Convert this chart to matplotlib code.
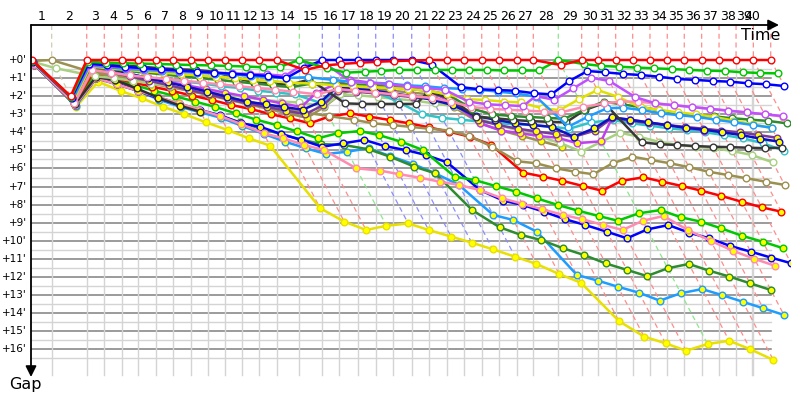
import numpy as np
import matplotlib.pyplot as plt
from matplotlib.colors import to_rgb

# leader crossing times, minutes from start (crossing 0 = start)
lap_t = [0.0, 2.07, 5.76, 7.61, 9.44, 11.19, 13.05, 14.87, 16.71, 18.49, 20.32,
         22.14, 23.93, 25.76, 28.14, 30.56, 32.35, 34.35, 36.18, 38.03, 39.97,
         41.82, 43.65, 45.47, 47.34, 49.13, 51.02, 52.77, 55.40, 57.86, 59.61,
         61.44, 63.23, 65.05, 66.87, 68.66, 70.49, 72.32, 74.11, 75.93, 77.76]
finish_t = 75.76
lap_labels = [str(i) for i in range(1, 41)]
gap_ticks = list(range(0, 17))

# gap to leader (minutes) at each crossing
red_h = [0.0, 2.0, 0, 0, 0, 0, 0, 0, 0, 0, 0, 0, 0, 0, 0.55, 0.3, 0.22, 0.15, 0.1,
         0.06, 0.03, 0, 0, 0, 0, 0, 0, 0, 0.28, 0, 0, 0, 0, 0, 0, 0, 0, 0, 0, 0, 0]
green_h = [0.05, 2.05, 0.1, 0.15, 0.18, 0.2, 0.22, 0.25, 0.28, 0.3, 0.33, 0.36, 0.4,
           0.37, 0.0, 0.45, 0.7, 0.65, 0.6, 0.55, 0.55, 0.55, 0.55, 0.55, 0.55, 0.58,
           0.58, 0.58, 0.0, 0.22, 0.33, 0.37, 0.42, 0.46, 0.5, 0.55, 0.59, 0.61, 0.68,
           0.72, 0.74]
blue_h = [0.1, 2.1, 0.2, 0.3, 0.38, 0.45, 0.52, 0.58, 0.64, 0.7, 0.76, 0.82, 0.88,
          1.0, 0.46, 0, 0, 0, 0, 0, 0, 0.25, 1.5, 1.62, 1.66, 1.7, 1.84, 1.9, 1.16,
          0.61, 0.68, 0.77, 0.83, 0.92, 1.05, 1.1, 1.16, 1.2, 1.29, 1.34, 1.44]
violet_h = [0.1, 2.1, 0.25, 0.35, 0.42, 0.48, 0.55, 0.6, 0.65, 0.7, 0.74, 0.77, 0.8,
            0.88, 0.28, 0.13, 1.2, 1.25, 1.35, 1.45, 1.55, 1.65, 2.3, 2.45, 2.5, 2.55,
            2.0, 2.2, 1.57, 0.98, 1.16, 2.05, 2.4, 2.5, 2.6, 2.7, 2.8, 2.9, 3.0, 3.1]
sky_h = [0.15, 2.2, 0.3, 0.4, 0.5, 0.55, 0.6, 0.65, 0.7, 0.75, 0.8, 0.88, 0.95, 1.0,
         0.95, 1.1, 1.2, 1.25, 1.3, 1.4, 1.45, 1.55, 1.6, 1.65, 1.75, 1.85, 2.03, 3.69,
         3.13, 2.67, 2.64, 2.77, 2.95, 3.05, 3.15, 3.3, 3.45, 3.6, 3.74]
yellow_h = [0.2, 2.3, 0.35, 0.45, 0.55, 0.62, 0.7, 0.78, 0.85, 0.92, 1.0, 1.08, 1.15,
            1.25, 1.3, 1.4, 1.45, 1.5, 1.55, 1.6, 1.7, 1.9, 2.17, 2.21, 2.3, 2.35, 2.67,
            2.77, 2.17, 1.66, 2.03, 2.62, 2.75, 2.9, 3.0, 3.15, 3.35, 3.55, 3.78]
pink_h = [0.2, 2.4, 0.55, 0.7, 0.85, 0.95, 1.05, 1.15, 1.25, 1.35, 1.45, 1.55, 1.65,
          1.75, 1.9, 1.6, 1.7, 1.8, 1.9, 2.0, 2.1, 2.3, 2.6, 2.7, 2.75, 2.8, 2.85, 2.9,
          2.6, 2.4, 2.3, 2.3, 2.4, 2.5, 2.6, 2.7, 2.8, 2.9, 3.0, 3.13]
dkgreen_h = [0.1, 2.2, 0.4, 0.5, 0.6, 0.7, 0.8, 0.9, 1.0, 1.1, 1.2, 1.3, 1.4, 1.5, 1.3,
             1.3, 1.35, 1.4, 1.5, 1.6, 1.7, 1.9, 2.7, 3.0, 3.1, 3.15, 3.2, 3.25, 2.75,
             2.3, 2.45, 2.6, 2.77, 2.95, 3.04, 3.12, 3.22, 3.3, 3.37, 3.5]
black_h = [0.05, 2.1, 0.15, 0.28, 0.32, 0.37, 0.46, 0.51, 0.55, 0.65, 0.96, 1.25, 1.29,
           1.38, 1.07, 2.4, 2.43, 2.43, 2.43, 2.43, 1.75, 2.12, 3.13, 3.22, 3.32, 3.38,
           3.42, 3.45, 2.77, 2.38, 4.55, 4.66, 4.7, 4.76, 4.8, 4.82, 4.85, 4.88, 4.85]
cyan_h = [0.15, 2.3, 0.5, 0.65, 0.8, 0.95, 1.1, 1.2, 1.3, 1.45, 1.55, 1.7, 1.8, 1.9,
          2.4, 1.5, 1.6, 1.75, 2.3, 3.0, 3.2, 3.3, 3.4, 3.5, 3.55, 3.6, 3.7, 3.8, 3.45,
          3.32, 3.5, 3.63, 3.78, 3.87, 4.0, 4.15, 4.33, 4.6, 5.02]
ltgreen_h = [0.1, 0.46, 0.9, 1.0, 1.15, 1.3, 1.45, 1.6, 1.75, 1.9, 2.05, 2.2, 2.3,
             2.35, 2.55, 1.9, 1.95, 2.05, 2.15, 2.25, 2.4, 2.55, 3.2, 3.6, 3.9, 4.2,
             4.6, 5.07, 4.52, 4.02, 4.24, 4.52, 4.7, 4.8, 4.88, 5.03, 5.25, 5.66]
olive_h = [0.05, 0.0, 0.7, 0.9, 1.1, 1.3, 1.5, 1.7, 1.9, 2.1, 2.3, 2.5, 2.7, 2.9, 3.1,
           3.3, 3.5, 3.6, 3.7, 3.8, 3.9, 4.2, 4.8, 5.6, 5.71, 5.99, 6.18, 6.32, 5.71,
           5.35, 5.53, 5.71, 5.93, 6.18, 6.36, 6.54, 6.73, 6.91]

red_f = [0.2, 2.4, 0.7, 1.0, 1.25, 1.48, 1.71, 1.97, 2.21, 2.49, 2.71, 3.0, 3.23, 3.5,
         3.13, 2.95, 3.13, 3.32, 3.5, 3.72, 3.97, 4.24, 4.7, 6.23, 6.45, 6.68, 6.97,
         7.23, 6.68, 6.49, 6.73, 6.97, 7.23, 7.52, 7.84, 8.15, 8.39]
green_f = [0.2, 2.4, 0.8, 1.1, 1.4, 1.7, 2.0, 2.3, 2.6, 2.95, 3.3, 3.6, 3.95, 4.33,
           4.05, 3.93, 4.15, 4.52, 4.98, 6.45, 6.64, 6.97, 7.28, 7.65, 8.02, 8.33, 8.63,
           8.89, 8.48, 8.3, 8.7, 8.94, 9.31, 9.73, 10.05, 10.41]
blue_f = [0.25, 2.5, 1.0, 1.3, 1.7, 2.12, 2.49, 2.77, 3.04, 3.5, 3.69, 4.1, 4.42, 4.8,
          4.61, 4.42, 4.76, 4.98, 5.25, 5.66, 7.19, 7.78, 8.02, 8.39, 8.81, 9.13, 9.5,
          9.86, 9.37, 9.13, 9.55, 9.86, 10.29, 10.6, 10.93, 11.24]
pink_f = [0.25, 2.5, 1.0, 1.35, 1.7, 2.05, 2.4, 2.75, 3.1, 3.55, 4.05, 4.33, 4.7, 4.98,
          5.99, 6.12, 6.32, 6.51, 6.73, 6.91, 7.2, 7.65, 7.95, 8.26, 8.57, 8.81, 9.13,
          9.4, 8.89, 8.63, 9.4, 10.0, 10.55, 11.0, 11.39]
dkgreen_f = [0.25, 2.5, 1.0, 1.35, 1.7, 2.05, 2.4, 2.75, 3.1, 3.45, 3.8, 4.1, 4.4, 4.65,
             4.7, 4.95, 5.35, 5.9, 6.27, 8.3, 9.25, 9.68, 9.96, 10.41, 10.79, 11.25,
             11.61, 11.95, 11.52, 11.28, 11.65, 11.98, 12.35, 12.72]
sky_f = [0.25, 2.55, 1.0, 1.35, 1.7, 2.2, 2.6, 2.9, 3.2, 3.65, 4.09, 4.52, 4.88, 5.2,
         5.07, 4.88, 5.31, 5.75, 6.27, 6.91, 8.57, 8.85, 9.5, 11.89, 12.2, 12.54, 12.87,
         13.31, 12.9, 12.67, 13.0, 13.37, 13.73, 14.1]
yellow_f = [0.15, 2.58, 1.2, 1.71, 2.12, 2.58, 3.0, 3.45, 3.87, 4.33, 4.74, 8.2, 8.94,
            9.4, 9.17, 9.04, 9.4, 9.77, 10.1, 10.47, 10.88, 11.28, 11.84, 12.32, 14.44,
            15.3, 15.67, 16.08, 15.71, 15.53, 16.0, 16.59]
dkblue_f = [0.1, 2.2, 0.2, 0.46, 0.74, 1.01, 1.24, 1.48, 1.75, 2.03, 2.3, 2.45, 2.6,
            2.75, 2.3, 1.5, 1.6, 1.7, 1.85, 2.0, 2.2, 2.5, 3.1, 3.3, 3.5, 3.6, 3.7, 4.24,
            3.78, 3.17, 3.3, 3.45, 3.6, 3.75, 3.85, 4.0, 4.15, 4.35, 4.52]
purple_f = [0.2, 2.3, 0.5, 0.7, 0.9, 1.15, 1.4, 1.65, 1.9, 2.15, 2.4, 2.6, 2.8, 3.0,
            2.5, 1.7, 1.75, 1.85, 1.95, 2.05, 2.15, 2.3, 3.3, 3.6, 3.8, 3.95, 4.1, 4.25,
            3.9, 3.2, 3.35, 3.5, 3.6, 3.7, 3.8, 3.9, 4.0, 4.15, 4.3]
magenta_f = [0.15, 2.3, 0.4, 0.6, 0.8, 1.0, 1.2, 1.4, 1.6, 1.8, 2.0, 2.2, 2.4, 2.6,
             1.8, 1.35, 1.1, 1.25, 1.4, 1.55, 1.7, 2.3, 3.5, 3.9, 4.05, 4.2, 4.3, 4.6,
             4.5, 3.2, 3.3, 3.45, 3.6, 3.75, 3.9]
olive_f = [0.2, 2.4, 0.6, 0.8, 1.0, 1.2, 1.45, 1.7, 1.95, 2.2, 2.45, 2.7, 2.95, 3.2,
           2.6, 1.9, 1.6, 1.6, 1.7, 1.8, 1.9, 2.6, 3.5, 3.9, 4.2, 4.5, 4.8]
black_f = [0.2, 2.45, 0.95, 1.1, 1.57, 2.08, 2.53, 2.86]

# (gaps, line colour, marker face) in drawing order, bottom first
drivers = [
    (yellow_f, '#e8e000', '#ffff00'), (sky_f, '#1e9cff', '#ffff00'),
    (dkgreen_f, '#2e8b2e', '#ffff00'), (blue_f, '#0000ff', '#ffff00'),
    (pink_f, '#ff8cb0', '#ffff00'), (green_f, '#00c800', '#ffff00'),
    (red_f, '#ff0000', '#ffff00'), (black_f, '#303030', '#ffff00'),
    (olive_f, '#9c9050', '#ffff00'), (olive_h, '#9c9050', 'white'),
    (ltgreen_h, '#a8d080', 'white'), (cyan_h, '#30c4c8', 'white'),
    (magenta_f, '#c040f0', '#ffff00'), (purple_f, '#7a3a9a', '#ffff00'),
    (dkblue_f, '#1010c0', '#ffff00'), (black_h, '#383838', 'white'),
    (dkgreen_h, '#2e8b2e', 'white'), (yellow_h, '#e0e000', 'white'),
    (sky_h, '#1e9cff', 'white'), (pink_h, '#ff8cb0', 'white'),
    (violet_h, '#c050ff', 'white'), (blue_h, '#0000ff', 'white'),
    (green_h, '#00c800', 'white'), (red_h, '#ff0000', 'white'),
]

px_x, px_y = 9.5, 18.08          # pixels per minute on each axis
x_left, x_right = -1 / px_x, 758 / px_x
y_top, y_bot = -35 / px_y, 318 / px_y
grid_bot = 315 / px_y

fig = plt.figure(figsize=(8, 4), dpi=100)
ax = fig.add_axes([31 / 800, 22 / 400, 759 / 800, 353 / 400])
ax.set_xlim(x_left, x_right)
ax.set_ylim(y_bot, y_top)
ax.axis('off')

# grid
for g in np.arange(0, 16.51, 0.5):
    major = float(g).is_integer()
    ax.plot([x_left, lap_t[-1]], [g, g], color='#808080' if major else '#d4d4d4',
            lw=1.1 if major else 1.0, zorder=1)
for t in lap_t[1:-1] + [finish_t]:
    ax.plot([t, t], [0, grid_bot], color='#d4d4d4', lw=1.0, zorder=1)


def lighter(c, f=0.55):
    r, g, b = to_rgb(c)
    return (r + (1 - r) * f, g + (1 - g) * f, b + (1 - b) * f)


# lap lines: coloured by the leader of that crossing, reaching to the last car
for k in range(1, len(lap_t)):
    here = [(d[0][k], d[1]) for d in drivers if len(d[0]) > k]
    lead_col = min(here, key=lambda p: p[0])[1]
    gmax = max(p[0] for p in here)
    t = lap_t[k]
    ax.plot([t, t, t + gmax], [y_top, 0, gmax], color=lighter(lead_col),
            lw=0.9, ls=(0, (4, 3)), zorder=2)

# driver traces
for gaps, col, face in drivers:
    g = np.array(gaps)
    x = np.array(lap_t[:len(g)]) + g
    ax.plot(x, g, color=col, lw=1.8, marker='o', ms=4.8, mfc=face, mec=col,
            mew=1.0, zorder=3)

# axes arrows
ax.annotate('', xy=(747 / px_x, y_top), xytext=(x_left, y_top),
            arrowprops=dict(arrowstyle='-|>', color='black', lw=1.3,
                            mutation_scale=16, shrinkA=0, shrinkB=0),
            annotation_clip=False, zorder=5)
ax.annotate('', xy=(x_left, 317 / px_y), xytext=(x_left, y_top),
            arrowprops=dict(arrowstyle='-|>', color='black', lw=1.3,
                            mutation_scale=16, shrinkA=0, shrinkB=0),
            annotation_clip=False, zorder=5)

# lap numbers, centred on each lap
ends = [min(t, finish_t) for t in lap_t]
for k, lab in enumerate(lap_labels, start=1):
    xm = (lap_t[k - 1] + ends[k]) / 2
    ax.text(xm, -43 / px_y, lab, ha='center', va='center', fontsize=9,
            clip_on=False)

for g in gap_ticks:
    ax.text(-5 / px_x, g, "+%d'" % g, ha='right', va='center', fontsize=7.5,
            clip_on=False)

ax.text(729 / px_x, -24 / px_y, 'Time', ha='center', va='center', fontsize=11.5)
ax.text(-7 / px_x, 325 / px_y, 'Gap', ha='center', va='center', fontsize=11.5,
        clip_on=False)

fig.savefig('out.png', dpi=100)
